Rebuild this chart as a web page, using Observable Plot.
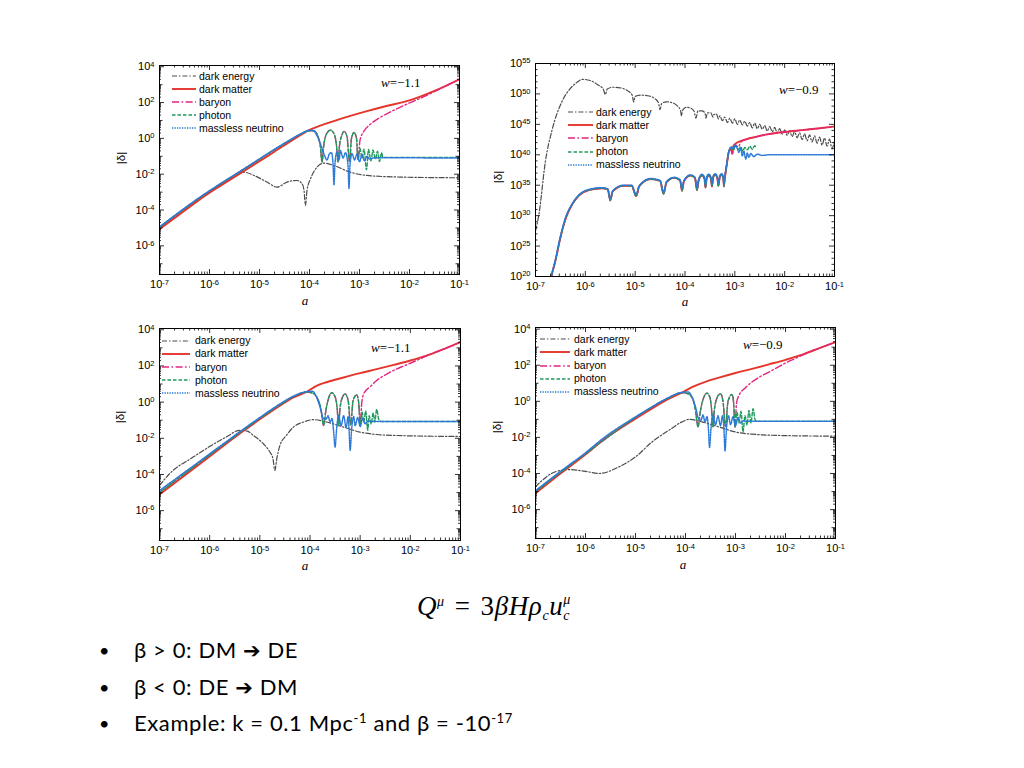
<!DOCTYPE html>
<html><head><meta charset="utf-8">
<script src="https://cdn.jsdelivr.net/npm/d3@7"></script>
<script src="https://cdn.jsdelivr.net/npm/@observablehq/plot@0.6"></script>
<style>
html,body{margin:0;padding:0;background:#fff;}
#slide{position:relative;width:1024px;height:768px;overflow:hidden;font-family:"Liberation Sans",Arial,sans-serif;color:#000;}
.abs{position:absolute;white-space:nowrap;}
.panel{position:absolute;}
.leg{position:absolute;font-size:10.5px;line-height:12px;white-space:nowrap;}
.leg svg{position:absolute;}
.wl{position:absolute;font-family:"Liberation Serif","Times New Roman",serif;font-size:13px;white-space:nowrap;transform:translateY(-50%);}
.ylab{position:absolute;font-size:11.5px;transform:translate(-50%,-50%) rotate(-90deg);}
.xlab{position:absolute;font-family:"Liberation Serif",serif;font-style:italic;font-size:13px;line-height:13px;transform:translate(-50%,-50%);}
.bul{position:absolute;font-family:Lato,"Open Sans",sans-serif;font-size:22px;white-space:nowrap;line-height:26px;letter-spacing:0.6px;}
.arr{font-family:"DejaVu Sans",sans-serif;font-size:21px;line-height:20px;}
.sp{position:relative;top:-8px;font-size:13px;line-height:0;}
</style></head>
<body><div id="slide"></div>
<script>
// ---------- data: [log10(a), log10|delta|] ----------
const seriesNames = ["dark energy","dark matter","baryon","photon","massless neutrino"];
const xTickExps = [-7,-6,-5,-4,-3,-2,-1];
const yTickExpsSmall = [-6,-4,-2,0,2,4];
const yTickExpsBig = [20,25,30,35,40,45,50,55];

// Panel 1 (w = -1.1, top left)
const p1_de = [[-7,-5.0],[-6.2,-3.35],[-5.5,-2.15],[-5.31,-1.89],[-5.11,-2.07],[-4.85,-2.44],[-4.65,-2.72],[-4.45,-2.44],[-4.25,-2.35],[-4.15,-2.53],[-4.11,-2.9],[-4.08,-3.74],[-4.05,-2.9],[-3.98,-2.26],[-3.85,-1.61],[-3.71,-1.38],[-3.51,-1.52],[-3.18,-1.89],[-2.85,-2.07],[-2.18,-2.16],[-1,-2.2]];
const p1_dm = [[-7,-5.07],[-6.6,-4.25],[-6.2,-3.42],[-5.8,-2.68],[-5.3,-1.8],[-4.8,-0.92],[-4.4,-0.2],[-4.2,0.15],[-4.0,0.47],[-3.8,0.7],[-3.5,0.98],[-3.2,1.24],[-2.85,1.52],[-2.5,1.78],[-2.0,2.12],[-1.5,2.65],[-1.0,3.3]];
const p1_bp = [[-7,-4.97],[-6.2,-3.32],[-5.3,-1.7],[-4.4,-0.12],[-4.2,0.2],[-4.0,0.42],[-3.91,0.43],[-3.83,0.1],[-3.78,-0.5],[-3.75,-1.33],[-3.72,-0.5],[-3.66,0.25],[-3.58,0.46],[-3.5,0.2],[-3.46,-0.4],[-3.43,-1.33],[-3.40,-0.4],[-3.35,0.2],[-3.31,0.39],[-3.25,0.1],[-3.2,-1.3],[-3.16,0.0],[-3.11,0.33],[-3.06,0.0],[-3.03,-1.2]];
const p1_baryonTail = [[-2.99,-0.1],[-2.9,0.45],[-2.8,0.75],[-2.6,1.15],[-2.4,1.45],[-2.2,1.72],[-2.0,1.98],[-1.8,2.22],[-1.6,2.48],[-1.4,2.75],[-1.0,3.3]];
const p1_photonTail = [[-2.99,-0.55],[-2.95,-1.1],[-2.91,-0.6],[-2.86,-1.75],[-2.82,-0.62],[-2.77,-1.25],[-2.73,-0.65],[-2.68,-1.15],[-2.64,-0.72],[-2.6,-1.3],[-2.56,-0.8],[-2.53,-1.06],[-1.0,-1.06]];
const p1_nu = [[-7,-4.94],[-6.2,-3.3],[-5.3,-1.68],[-4.4,-0.1],[-4.2,0.22],[-4.0,0.45],[-3.93,0.45],[-3.85,0.15],[-3.78,-0.31],[-3.71,-0.87],[-3.65,-1.2],[-3.6,-0.85],[-3.56,-0.8],[-3.53,-1.4],[-3.51,-2.6],[-3.49,-1.4],[-3.45,-0.75],[-3.41,-1.2],[-3.38,-0.68],[-3.33,-1.1],[-3.28,-0.8],[-3.23,-1.5],[-3.21,-2.8],[-3.19,-1.5],[-3.15,-0.85],[-3.1,-1.2],[-3.05,-0.88],[-3.0,-1.3],[-2.95,-0.9],[-2.9,-1.25],[-2.85,-1.0],[-2.8,-1.15],[-2.7,-1.08],[-1,-1.1]];

// Panel 2 (w = -0.9, top right)
const p2_de = [[-7,27.5],[-6.93,30.3],[-6.8,39.0],[-6.67,44.0],[-6.46,48.9],[-6.3,50.9],[-6.15,52.0],[-6.06,52.4],[-5.9,52.2],[-5.75,51.5],[-5.64,50.8],[-5.6,49.9],[-5.56,50.8],[-5.45,51.1],[-5.3,51.0],[-5.15,50.5],[-5.06,49.8],[-5.03,48.7],[-5.0,49.6],[-4.88,49.8],[-4.75,49.7],[-4.6,49.2],[-4.53,48.5],[-4.5,47.4],[-4.47,48.4],[-4.38,48.7],[-4.28,48.6],[-4.15,48.0],[-4.09,47.3],[-4.07,46.4],[-4.05,47.3],[-3.98,47.8],[-3.9,47.7],[-3.82,47.2],[-3.78,46.0],[-3.74,47.2],[-3.66,47.2],[-3.6,46.9],[-3.58,46.0],[-3.55,46.9],[-3.48,46.9],[-3.44,46.2],[-3.42,46.6],[-3.37,46.7],[-3.33,45.9],[-3.3,46.4],[-3.25,45.6],[-3.2,46.2],[-3.15,45.3],[-3.1,46.0],[-3.05,45.2],[-3.0,45.9],[-2.95,45.0],[-2.9,45.7],[-2.85,44.9],[-2.8,45.5],[-2.75,44.7],[-2.7,45.3],[-2.65,44.4],[-2.6,45.2],[-2.55,44.3],[-2.5,45.0],[-2.45,44.2],[-2.4,44.8],[-2.35,43.9],[-2.3,44.65],[-2.25,43.8],[-2.2,44.5],[-2.15,43.6],[-2.1,44.3],[-2.05,43.4],[-2.0,44.1],[-1.95,43.2],[-1.9,43.96],[-1.85,43.0],[-1.8,43.8],[-1.75,42.8],[-1.7,43.6],[-1.65,42.5],[-1.6,43.44],[-1.55,42.3],[-1.5,43.27],[-1.45,42.1],[-1.4,43.1],[-1.35,41.9],[-1.3,42.9],[-1.25,41.6],[-1.2,42.75],[-1.15,41.4],[-1.1,42.57],[-1.05,41.0],[-1.0,42.4]];
const p2_pre = [[-6.7,19.2],[-6.67,20.4],[-6.6,22.6],[-6.5,26.4],[-6.4,29.4],[-6.26,31.9],[-6.13,33.3],[-5.93,34.2],[-5.66,34.5],[-5.55,34.3],[-5.5,32.5],[-5.45,34.0],[-5.23,34.92],[-5.07,34.9],[-4.98,33.2],[-4.92,34.8],[-4.69,36.0],[-4.5,35.7],[-4.43,33.6],[-4.37,35.5],[-4.22,36.2],[-4.1,35.8],[-4.06,34.1],[-4.02,35.7],[-3.89,36.6],[-3.8,36.2],[-3.76,34.2],[-3.72,36.0],[-3.66,36.6],[-3.61,36.1],[-3.59,34.6],[-3.56,36.3],[-3.52,36.6],[-3.48,36.1],[-3.46,34.8],[-3.43,36.4],[-3.39,36.7],[-3.35,36.1],[-3.33,34.9],[-3.3,36.4],[-3.26,36.7],[-3.23,36.0],[-3.22,34.8],[-3.2,36.2],[-3.16,38.5],[-3.12,40.5]];
const p2_dmTail = [[-3.08,41.1],[-3.05,40.4],[-3.03,41.4],[-2.99,41.8],[-2.9,42.2],[-2.75,42.6],[-2.6,42.9],[-2.32,43.4],[-2.0,43.75],[-1.65,44.05],[-1.3,44.35],[-1.0,44.65]];
const p2_baryonTail = [[-3.08,40.9],[-3.05,40.0],[-3.02,41.2],[-2.99,41.6],[-2.93,41.3],[-2.88,42.1],[-2.75,42.6],[-2.6,42.9],[-2.32,43.4],[-2.0,43.75],[-1.65,44.05],[-1.3,44.35],[-1.0,44.65]];
const p2_photonTail = [[-3.07,41.2],[-3.02,40.8],[-2.99,41.5],[-2.93,40.9],[-2.88,41.3],[-2.84,40.6],[-2.8,41.2],[-2.75,40.8],[-2.7,41.4],[-2.65,40.9],[-2.6,41.5],[-2.58,41.1]];
const p2_nu = [[-6.7,19.5],[-6.6,22.8],[-6.5,26.6],[-6.4,29.6],[-6.26,32.0],[-6.13,33.4],[-5.93,34.3],[-5.66,34.6],[-5.55,34.4],[-5.5,32.8],[-5.45,34.1],[-5.23,35.0],[-5.07,35.0],[-4.98,33.5],[-4.92,34.9],[-4.69,36.1],[-4.5,35.8],[-4.43,33.9],[-4.37,35.6],[-4.22,36.3],[-4.1,35.9],[-4.06,34.5],[-4.02,35.8],[-3.89,36.7],[-3.8,36.3],[-3.76,34.6],[-3.72,36.1],[-3.66,36.8],[-3.61,36.3],[-3.59,35.0],[-3.56,36.5],[-3.52,36.8],[-3.48,36.3],[-3.46,35.2],[-3.43,36.6],[-3.39,36.9],[-3.35,36.3],[-3.33,35.3],[-3.3,36.6],[-3.26,36.9],[-3.23,36.3],[-3.22,35.3],[-3.2,36.5],[-3.16,38.6],[-3.12,40.6],[-3.07,41.3],[-3.02,41.0],[-2.99,41.6],[-2.95,41.0],[-2.92,40.4],[-2.88,41.2],[-2.85,39.8],[-2.82,40.6],[-2.78,39.3],[-2.75,40.3],[-2.72,39.6],[-2.68,40.2],[-2.62,39.7],[-2.55,40.1],[-2.45,39.9],[-2.3,40.0],[-1,40.0]];

// Panel 3 (w = -1.1, bottom left)
const p3_de = [[-7,-4.61],[-6.8,-3.96],[-6.33,-3.04],[-5.67,-1.93],[-5.4,-1.56],[-5.25,-1.6],[-5.13,-1.84],[-4.93,-2.3],[-4.8,-2.76],[-4.74,-3.1],[-4.7,-3.78],[-4.66,-3.1],[-4.6,-2.4],[-4.47,-1.84],[-4.33,-1.38],[-4.13,-1.1],[-3.93,-0.97],[-3.67,-1.1],[-3.33,-1.38],[-3.0,-1.66],[-2.67,-1.79],[-2.33,-1.84],[-1,-1.9]];
const p3_dm = [[-7,-5.11],[-6.5,-4.05],[-6,-3.0],[-5.33,-1.6],[-5,-0.95],[-4.6,-0.2],[-4.33,0.26],[-4.07,0.56],[-3.87,0.9],[-3.67,1.1],[-3.33,1.36],[-3,1.6],[-2.67,1.82],[-2.33,2.06],[-2,2.3],[-1.65,2.6],[-1.32,2.95],[-1,3.32]];
const p3_bp = [[-7,-5.0],[-6,-2.92],[-5.33,-1.55],[-4.6,-0.15],[-4.33,0.3],[-4.07,0.56],[-3.95,0.5],[-3.85,0.2],[-3.78,-0.4],[-3.73,-1.29],[-3.68,-0.4],[-3.62,0.3],[-3.57,0.52],[-3.5,0.3],[-3.46,-0.3],[-3.43,-1.29],[-3.4,-0.3],[-3.34,0.35],[-3.3,0.45],[-3.24,0.1],[-3.19,-1.25],[-3.14,0.1],[-3.07,0.4],[-3.03,0.0],[-3.0,-1.29]];
const p3_baryonTail = [[-2.97,-0.1],[-2.93,0.46],[-2.8,0.85],[-2.67,1.2],[-2.5,1.5],[-2.33,1.76],[-2.15,1.98],[-2.0,2.15],[-1.8,2.4],[-1.6,2.65],[-1.3,2.97],[-1,3.32]];
const p3_photonTail = [[-2.96,-0.55],[-2.93,-1.1],[-2.89,-0.5],[-2.85,-1.56],[-2.82,-0.75],[-2.78,-1.2],[-2.74,-0.6],[-2.71,-1.1],[-2.67,-0.4],[-2.63,-0.95],[-2.58,-1.07],[-1,-1.07]];
const p3_nu = [[-7,-4.89],[-6.5,-3.88],[-6,-2.86],[-5.33,-1.5],[-5,-0.85],[-4.6,-0.1],[-4.33,0.33],[-4.07,0.58],[-3.95,0.6],[-3.87,0.28],[-3.8,-0.27],[-3.73,-0.92],[-3.68,-0.95],[-3.64,-0.75],[-3.6,-1.1],[-3.56,-0.9],[-3.53,-1.6],[-3.5,-2.49],[-3.47,-1.5],[-3.43,-0.73],[-3.38,-1.3],[-3.33,-0.75],[-3.28,-1.4],[-3.24,-0.8],[-3.22,-1.6],[-3.2,-2.67],[-3.17,-1.5],[-3.13,-0.8],[-3.1,-1.3],[-3.05,-0.85],[-3.0,-1.35],[-2.95,-0.9],[-2.9,-1.2],[-2.85,-1.05],[-2.7,-1.07],[-1,-1.07]];

// Panel 4 (w = -0.9, bottom right)
const p4_de = [[-7,-4.73],[-6.6,-3.9],[-6.33,-3.78],[-6.0,-3.88],[-5.73,-4.0],[-5.33,-3.63],[-5,-3.08],[-4.67,-2.25],[-4.33,-1.6],[-4.07,-1.14],[-3.93,-1.0],[-3.67,-1.14],[-3.33,-1.42],[-3,-1.7],[-2.67,-1.82],[-2,-1.9],[-1,-1.93]];
const p4_dm = [[-7,-5.1],[-6.5,-4.0],[-6,-2.95],[-5.67,-2.2],[-5,-0.96],[-4.6,-0.28],[-4.33,0.15],[-4.07,0.48],[-3.87,0.79],[-3.67,1.01],[-3.33,1.31],[-3,1.57],[-2.67,1.8],[-2.33,2.05],[-2,2.3],[-1.65,2.6],[-1.32,2.95],[-1,3.28]];
const p4_bp = [[-7,-5.0],[-6,-2.9],[-5,-0.9],[-4.33,0.2],[-4.07,0.48],[-3.95,0.42],[-3.85,0.1],[-3.8,-0.5],[-3.75,-1.42],[-3.7,-0.5],[-3.63,0.25],[-3.57,0.45],[-3.51,0.2],[-3.48,-0.4],[-3.45,-1.42],[-3.42,-0.4],[-3.35,0.3],[-3.3,0.42],[-3.25,0.0],[-3.2,-1.4],[-3.15,0.0],[-3.07,0.38],[-3.04,0.0],[-3.01,-1.42]];
const p4_baryonTail = [[-2.98,-0.1],[-2.93,0.33],[-2.8,0.75],[-2.67,1.07],[-2.5,1.38],[-2.33,1.62],[-2.15,1.9],[-2.0,2.12],[-1.8,2.38],[-1.6,2.65],[-1.3,2.97],[-1,3.28]];
const p4_photonTail = [[-2.97,-0.6],[-2.93,-1.2],[-2.89,-0.55],[-2.85,-1.7],[-2.81,-0.8],[-2.77,-1.3],[-2.73,-0.5],[-2.69,-1.2],[-2.65,-0.41],[-2.61,-1.0],[-2.58,-1.11],[-1,-1.11]];
const p4_nu = [[-7,-4.95],[-6.5,-3.88],[-6,-2.85],[-5.67,-2.1],[-5,-0.86],[-4.6,-0.2],[-4.33,0.22],[-4.07,0.5],[-3.95,0.52],[-3.87,0.25],[-3.8,-0.3],[-3.74,-0.95],[-3.69,-1.05],[-3.65,-0.75],[-3.61,-1.15],[-3.57,-0.85],[-3.54,-1.6],[-3.52,-2.56],[-3.49,-1.5],[-3.45,-0.75],[-3.4,-1.3],[-3.35,-0.8],[-3.3,-1.35],[-3.26,-0.8],[-3.23,-1.6],[-3.21,-2.74],[-3.18,-1.5],[-3.14,-0.8],[-3.1,-1.3],[-3.05,-0.85],[-3.0,-1.35],[-2.95,-0.9],[-2.9,-1.2],[-2.85,-1.08],[-2.7,-1.11],[-1,-1.11]];

// ---------- styles & layout ----------
const STY = {
  de:     {stroke:"#4d4d4d", strokeWidth:1.2, strokeDasharray:"5,2,1.4,2"},
  dm:     {stroke:"#e5352b", strokeWidth:1.9},
  baryon: {stroke:"#e3247f", strokeWidth:1.4, strokeDasharray:"7,2.5,1.6,2.5"},
  photon: {stroke:"#1f9a5c", strokeWidth:1.4, strokeDasharray:"3.5,2"},
  nu:     {stroke:"#2a78d8", strokeWidth:1.5, strokeDasharray:"1.3,1.2"}
};
const keys = ["de","dm","baryon","photon","nu"];

const panels = [
  {fl:159, ft:65, w:300, h:209, yExp:[-7.6,4.07], big:false, wText:"=\u22121.1",
   series:{de:p1_de, dm:p1_dm, baryon:p1_bp.concat(p1_baryonTail), photon:p1_bp.concat(p1_photonTail), nu:p1_nu},
   leg:{lx:13, lw:24, tx:40, ty0:11, dy:13}, wpos:[222,18], ylab:[121,158], xlab:[305,300]},
  {fl:535, ft:63, w:299, h:213, yExp:[20,55], big:true, wText:"=\u22120.9",
   series:{de:p2_de, dm:p2_pre.concat(p2_dmTail), baryon:p2_pre.concat(p2_baryonTail), photon:p2_pre.concat(p2_photonTail), nu:p2_nu},
   leg:{lx:33, lw:25, tx:61, ty0:49, dy:13.2}, wpos:[244,27], ylab:[498,177], xlab:[685,301]},
  {fl:159, ft:328, w:301, h:212, yExp:[-7.65,4.07], big:false, wText:"=\u22121.1",
   series:{de:p3_de, dm:p3_dm, baryon:p3_bp.concat(p3_baryonTail), photon:p3_bp.concat(p3_photonTail), nu:p3_nu},
   leg:{lx:3, lw:28, tx:36, ty0:12.7, dy:13.15}, wpos:[212,20], ylab:[120,417], xlab:[305,565]},
  {fl:535, ft:327, w:300, h:211, yExp:[-7.6,4.09], big:false, wText:"=\u22120.9",
   series:{de:p4_de, dm:p4_dm, baryon:p4_bp.concat(p4_baryonTail), photon:p4_bp.concat(p4_photonTail), nu:p4_nu},
   leg:{lx:5, lw:30, tx:39, ty0:12.3, dy:13.1}, wpos:[208,18], ylab:[497,427], xlab:[683,564]}
];

const slide = document.getElementById("slide");
const mL = 45, mR = 10, mT = 8, mB = 35;

function supText(sel) {
  sel.each(function() {
    const t = this.textContent;
    const m = /^10\^(.*)$/.exec(t);
    if (!m) return;
    const s = d3.select(this);
    s.text(null);
    s.append("tspan").text("10");
    s.append("tspan").attr("dy", "-0.5em").attr("font-size", "7.5px").text(m[1]);
  });
}

panels.forEach(p => {
  const xMajor = xTickExps.map(e => 10 ** e);
  const xMinor = [];
  for (let e = -7; e < -1; e++) for (let k = 2; k < 10; k++) xMinor.push(k * 10 ** e);
  let yLab, yMid, yMinor = [];
  if (p.big) {
    yLab = yTickExpsBig.map(e => 10 ** e);
    yMid = d3.range(20, 56).filter(e => e % 5 !== 0).map(e => 10 ** e);
  } else {
    yLab = yTickExpsSmall.map(e => 10 ** e);
    yMid = [-7,-5,-3,-1,1,3].map(e => 10 ** e);
    for (let e = -8; e < 5; e++) for (let k = 2; k < 10; k++) {
      const v = k * 10 ** e;
      if (Math.log10(v) > p.yExp[0] && Math.log10(v) < p.yExp[1]) yMinor.push(v);
    }
  }
  const W = p.w, H = p.h;
  const tickM = (vals, len, side) => {
    const o = {stroke:"#000", strokeWidth:0.8};
    if (side === "b") return Plot.tickX(vals, {x:d=>d, insetTop:H-len, ...o});
    if (side === "t") return Plot.tickX(vals, {x:d=>d, insetBottom:H-len, ...o});
    if (side === "l") return Plot.tickY(vals, {y:d=>d, insetRight:W-len, ...o});
    return Plot.tickY(vals, {y:d=>d, insetLeft:W-len, ...o});
  };
  const fmt = d => "10^" + Math.round(Math.log10(d));
  const marks = [];
  keys.forEach(k => {
    marks.push(Plot.line(p.series[k], {x:d=>10**d[0], y:d=>10**d[1], curve:"monotone-x", clip:true, ...STY[k]}));
  });
  ["b","t"].forEach(s => { marks.push(tickM(xMajor, 5, s)); marks.push(tickM(xMinor, 2.5, s)); });
  ["l","r"].forEach(s => {
    marks.push(tickM(yLab, 5, s));
    marks.push(tickM(yMid, p.big ? 2.5 : 3.5, s));
    if (yMinor.length) marks.push(tickM(yMinor, 2, s));
  });
  marks.push(Plot.frame({stroke:"#000", strokeWidth:1}));
  marks.push(Plot.axisX(xMajor, {tickSize:0, tickPadding:6, tickFormat:fmt, label:null, fontSize:11}));
  marks.push(Plot.axisY(yLab, {tickSize:0, tickPadding:5, tickFormat:fmt, label:null, fontSize:11}));

  const chart = Plot.plot({
    width: W + mL + mR, height: H + mT + mB,
    marginLeft: mL, marginRight: mR, marginTop: mT, marginBottom: mB,
    x: {type:"log", domain:[1e-7, 1e-1]},
    y: {type:"log", domain:[10 ** p.yExp[0], 10 ** p.yExp[1]]},
    style: {fontFamily:"'Liberation Sans', Arial, sans-serif", fontSize:"11px", background:"transparent", color:"#000"},
    marks
  });
  supText(d3.select(chart).selectAll('g[aria-label="x-axis tick label"] text, g[aria-label="y-axis tick label"] text'));
  const div = document.createElement("div");
  div.className = "panel";
  div.style.left = (p.fl - mL) + "px";
  div.style.top = (p.ft - mT) + "px";
  div.appendChild(chart);
  slide.appendChild(div);

  // legend
  const lg = document.createElement("div");
  lg.className = "leg";
  lg.style.left = p.fl + "px"; lg.style.top = p.ft + "px";
  keys.forEach((k, i) => {
    const yc = p.leg.ty0 + i * p.leg.dy;
    const s = STY[k];
    const svg = d3.create("svg").attr("width", p.leg.lw).attr("height", 6)
      .style("left", p.leg.lx + "px").style("top", (yc - 3) + "px");
    svg.append("line").attr("x1", 0).attr("x2", p.leg.lw).attr("y1", 3).attr("y2", 3)
      .attr("stroke", s.stroke).attr("stroke-width", s.strokeWidth)
      .attr("stroke-dasharray", s.strokeDasharray || null);
    lg.appendChild(svg.node());
    const t = document.createElement("div");
    t.className = "abs";
    t.style.left = p.leg.tx + "px"; t.style.top = (yc - 6.5) + "px";
    t.textContent = seriesNames[i];
    lg.appendChild(t);
  });
  slide.appendChild(lg);

  const wl = document.createElement("div");
  wl.className = "wl";
  wl.style.left = (p.fl + p.wpos[0]) + "px"; wl.style.top = (p.ft + p.wpos[1]) + "px";
  wl.innerHTML = "<i>w</i>" + p.wText;
  slide.appendChild(wl);

  const yl = document.createElement("div");
  yl.className = "ylab";
  yl.style.left = p.ylab[0] + "px"; yl.style.top = p.ylab[1] + "px";
  yl.textContent = "|\u03b4|";
  slide.appendChild(yl);

  const xl = document.createElement("div");
  xl.className = "xlab";
  xl.style.left = p.xlab[0] + "px"; xl.style.top = p.xlab[1] + "px";
  xl.textContent = "a";
  slide.appendChild(xl);
});

// formula and bullets
const f = document.createElement("div");
f.className = "abs";
f.style.cssText = "left:417px;top:592px;font-family:'Liberation Serif','Times New Roman',serif;font-size:27px;line-height:28px;letter-spacing:0.6px;";
f.innerHTML = "<i>Q</i><span style='position:relative;top:-9px;font-size:14px'><i>\u03bc</i></span>" +
  "<span style='margin:0 10px'>=</span>3<i>\u03b2H\u03c1</i><span style='position:relative;top:5px;font-size:14px'><i>c</i></span>" +
  "<i>u</i><span style='display:inline-block;position:relative;width:8px;height:10px;font-size:14px;line-height:14px'>" +
  "<i style='position:absolute;left:0;top:-12px'>\u03bc</i><i style='position:absolute;left:0;top:4px'>c</i></span>";
slide.appendChild(f);

const bullets = [
  "\u03b2 &gt; 0: DM <span class='arr'>\u2794</span> DE",
  "\u03b2 &lt; 0: DE <span class='arr'>\u2794</span> DM",
  "Example: k = 0.1 Mpc<span class='sp'>-1</span> and \u03b2 = -10<span class='sp'>-17</span>"
];
const bulletY = [650, 687, 723];
bullets.forEach((b, i) => {
  const d1 = document.createElement("div");
  d1.className = "bul"; d1.style.left = "99px"; d1.style.top = (bulletY[i] - 13) + "px";
  d1.style.fontSize = "18px";
  d1.innerHTML = "\u2022";
  slide.appendChild(d1);
  const d2 = document.createElement("div");
  d2.className = "bul"; d2.style.left = "134px"; d2.style.top = (bulletY[i] - 13) + "px";
  d2.innerHTML = b;
  slide.appendChild(d2);
});
</script></body></html>
